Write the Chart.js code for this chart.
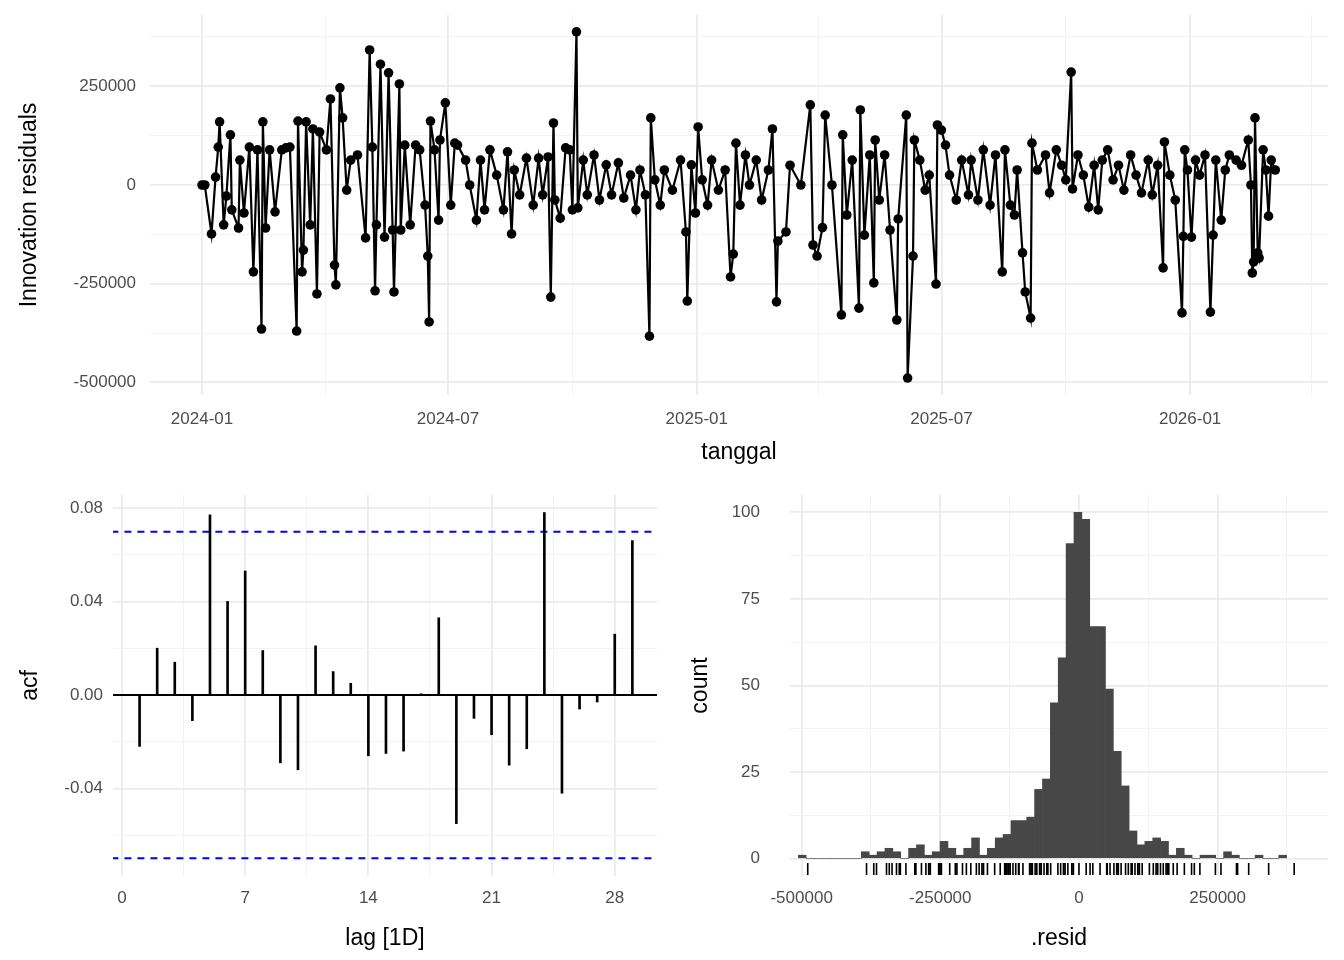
<!DOCTYPE html>
<html>
<head>
<meta charset="utf-8">
<script src="https://cdn.jsdelivr.net/npm/chart.js@4/dist/chart.umd.min.js"></script>
<style>
  body { margin: 0; background: #fff; }
  .box { position: absolute; }
</style>
</head>
<body>
<div class="box" style="left:0;top:0;width:1344px;height:470px"><canvas id="resid"></canvas></div>
<div class="box" style="left:0;top:470px;width:672px;height:490px"><canvas id="acf"></canvas></div>
<div class="box" style="left:672px;top:470px;width:672px;height:490px"><canvas id="hist"></canvas></div>
<script>
  // Residual series: day offset from 2024-01-01 and residual (thousands).
  const residDays = [0,2,7,10,12,13,16,18,21,22,27,28,31,35,38,41,44,45,47,50,54,59,62,65,70,71,74,75,77,80,82,85,87,92,95,98,99,102,104,107,110,115,121,124,126,128,129,132,135,138,141,142,146,147,150,154,158,161,165,167,168,169,172,175,176,180,184,187,189,195,198,203,206,209,213,218,223,226,229,231,235,240,245,249,252,256,258,260,261,265,269,272,274,277,278,282,285,290,294,299,303,308,312,317,321,324,328,331,332,335,339,342,348,354,358,359,362,365,367,370,374,377,382,387,391,393,395,398,402,405,410,414,419,422,425,426,432,435,443,450,452,455,459,461,466,473,474,477,481,486,487,490,494,497,498,501,505,509,514,515,521,522,526,527,531,535,538,543,544,547,550,553,558,562,567,569,574,578,583,587,592,594,598,601,603,607,609,613,614,618,624,627,632,636,639,643,644,648,652,656,660,663,666,670,674,678,682,687,691,695,700,703,707,711,712,716,720,725,726,727,729,732,735,738,742,746,748,750,754,757,760,765,769,774,776,777,778,779,781,782,785,787,789,791,794];
  const residVals = [0,0,-124,20,96,160,-101,-28,127,-63,-109,63,-71,96,-220,89,-365,160,-109,89,-68,89,94,96,-370,162,-220,-165,160,-101,142,-276,134,89,218,-203,-253,246,170,-13,63,76,-134,342,96,-268,-101,306,-132,284,-114,-271,256,-114,101,-101,101,89,-51,-180,-347,162,89,-89,114,208,-51,106,101,63,0,-89,63,-63,89,25,-63,84,-124,38,-25,68,-51,68,-25,71,-284,157,-38,-84,94,89,-63,388,-58,63,-25,76,-38,51,-25,56,-33,25,-63,38,-25,-383,170,13,-51,38,-13,63,-119,-294,51,-71,147,13,-51,63,-13,38,-233,-175,106,-51,76,0,63,-38,38,142,-296,-142,-119,50,0,203,-152,-180,-108,177,0,-329,127,-76,63,-312,190,-127,76,-248,114,-38,76,-114,-342,-86,177,-489,-180,114,63,-13,25,-251,152,139,101,25,-38,63,-25,63,-38,89,-51,76,-220,89,-51,-76,38,-172,-271,-337,106,38,76,-20,89,50,13,286,-10,76,25,-56,50,-63,63,89,13,50,-13,76,25,-20,63,-25,50,-210,109,25,-38,-324,-130,89,38,-132,63,25,76,-322,-127,63,-89,38,76,63,50,114,0,-223,-195,170,-172,-185,89,38,-79,63,38];

  // Top panel axis ticks.
  const residYTicks = [-500000,-375000,-250000,-125000,0,125000,250000,375000];
  const residXTickDays = [0,91,182,274,366,456,547,639,731,821];
  const residXTickLabels = ['2024-01','','2024-07','','2025-01','','2025-07','','2026-01',''];

  // ACF by lag.
  const acfLags = [1,2,3,4,5,6,7,8,9,10,11,12,13,14,15,16,17,18,19,20,21,22,23,24,25,26,27,28,29];
  const acfVals = [-0.022,0.020,0.014,-0.011,0.077,0.040,0.053,0.019,-0.029,-0.032,0.021,0.010,0.005,-0.026,-0.025,-0.024,0.0005,0.033,-0.055,-0.010,-0.017,-0.030,-0.023,0.078,-0.042,-0.006,-0.003,0.026,0.066];
  const acfBound = 0.0698;
  const acfYTicks = [-0.06,-0.04,-0.02,0,0.02,0.04,0.06,0.08];
  const acfXTicks = [0,3.5,7,10.5,14,17.5,21,24.5,28];

  // Histogram of residuals.
  const binStart = -506000;
  const binWidth = 14200;
  const binCounts = [1,0,0,0,0,0,0,0,2,1,2,3,2,0,3,4,1,2,5,3,1,3,6,1,3,6,7,11,11,12,20,23,45,58,91,100,98,67,67,49,31,21,8,4,5,6,5,1,3,1,0,1,1,0,2,1,0,0,1,0,0,1];
  const histXTicks = [-500000,-375000,-250000,-125000,0,125000,250000,375000];
  const histYTicks = [0,12.5,25,37.5,50,62.5,75,87.5,100];

  const FONT = 'Liberation Sans, Arial, sans-serif';
  const tickFont = { family: FONT, size: 17 };
  const titleFont = { family: FONT, size: 23 };
  const tickColor = '#4d4d4d';

  function gridOpts(isMajor) {
    return {
      drawTicks: false,
      color: (c) => isMajor(c.tick.value) ? '#ebebeb' : '#f2f2f2',
      lineWidth: (c) => isMajor(c.tick.value) ? 1.8 : 0.9
    };
  }
  function fixTicks(values) {
    return function (scale) { scale.ticks = values.map(v => ({ value: v })); };
  }
  function fixWidth(w) {
    return function (scale) { scale.width = w; scale.paddingTop = 0; scale.paddingBottom = 0; };
  }
  function fixHeight(h) {
    return function (scale) { scale.height = h; scale.paddingLeft = 0; scale.paddingRight = 0; };
  }

  Chart.defaults.animation = false;
  Chart.defaults.responsive = true;
  Chart.defaults.maintainAspectRatio = false;
  Chart.defaults.plugins.legend.display = false;
  Chart.defaults.plugins.tooltip.enabled = false;

  // Residual time series.
  const residPoints = residDays.map((d, i) => ({ x: d, y: residVals[i] * 1000 }));
  new Chart(document.getElementById('resid'), {
    type: 'line',
    data: {
      datasets: [{
        data: residPoints,
        borderColor: '#000',
        backgroundColor: '#000',
        borderWidth: 2.2,
        pointRadius: 4.8,
        pointBorderWidth: 0
      }]
    },
    options: {
      layout: { padding: { top: 15, right: 16, left: 0, bottom: 0 } },
      scales: {
        x: {
          type: 'linear', min: -38.5, max: 833,
          border: { display: false },
          grid: gridOpts(v => residXTickLabels[residXTickDays.indexOf(v)] !== ''),
          afterBuildTicks: fixTicks(residXTickDays),
          afterFit: fixHeight(75),
          ticks: {
            font: tickFont, color: tickColor, padding: 14, maxRotation: 0, autoSkip: false,
            callback: (v) => residXTickLabels[residXTickDays.indexOf(v)] || ''
          },
          title: { display: true, text: 'tanggal', font: titleFont, color: '#000', padding: { top: 0, bottom: 4 } }
        },
        y: {
          min: -532000, max: 430600,
          border: { display: false },
          grid: gridOpts(v => v % 250000 === 0),
          afterBuildTicks: fixTicks(residYTicks),
          afterFit: fixWidth(150),
          ticks: {
            font: tickFont, color: tickColor, padding: 14,
            callback: (v) => v % 250000 === 0 ? String(v) : ''
          },
          title: { display: true, text: 'Innovation residuals', font: titleFont, color: '#000', padding: { top: 16, bottom: 0 } }
        }
      }
    }
  });

  // ACF.
  const acfZeroLine = {
    id: 'acfZeroLine',
    afterDatasetsDraw(chart) {
      const { ctx, chartArea, scales } = chart;
      const y = scales.y.getPixelForValue(0);
      ctx.save();
      ctx.strokeStyle = '#000';
      ctx.lineWidth = 2;
      ctx.beginPath();
      ctx.moveTo(chartArea.left, y);
      ctx.lineTo(chartArea.right, y);
      ctx.stroke();
      ctx.restore();
    }
  };
  new Chart(document.getElementById('acf'), {
    type: 'bar',
    data: {
      datasets: [
        {
          type: 'bar',
          data: acfLags.map((l, i) => ({ x: l, y: acfVals[i] })),
          backgroundColor: '#000',
          barThickness: 2
        },
        {
          type: 'line',
          data: [{ x: -0.6, y: acfBound }, { x: 30.5, y: acfBound }],
          borderColor: '#0000ff', borderWidth: 2, borderDash: [7, 6], pointRadius: 0
        },
        {
          type: 'line',
          data: [{ x: -0.6, y: -acfBound }, { x: 30.5, y: -acfBound }],
          borderColor: '#0000ff', borderWidth: 2, borderDash: [7, 6], pointRadius: 0
        }
      ]
    },
    options: {
      layout: { padding: { top: 25, right: 15, left: 0, bottom: 0 } },
      scales: {
        x: {
          type: 'linear', min: -0.51, max: 30.4, offset: false,
          border: { display: false },
          grid: Object.assign(gridOpts(v => v % 7 === 0), { offset: false }),
          afterBuildTicks: fixTicks(acfXTicks),
          afterFit: fixHeight(84),
          ticks: {
            font: tickFont, color: tickColor, padding: 12, maxRotation: 0, autoSkip: false,
            callback: (v) => v % 7 === 0 ? String(v) : ''
          },
          title: { display: true, text: 'lag [1D]', font: titleFont, color: '#000', padding: { top: 0, bottom: 8 } }
        },
        y: {
          min: -0.0774, max: 0.0855,
          border: { display: false },
          grid: gridOpts(v => Math.abs(Math.round(v * 100) % 4) === 0),
          afterBuildTicks: fixTicks(acfYTicks),
          afterFit: fixWidth(113),
          ticks: {
            font: tickFont, color: tickColor, padding: 10,
            callback: (v) => Math.abs(Math.round(v * 100) % 4) === 0 ? v.toFixed(2) : ''
          },
          title: { display: true, text: 'acf', font: titleFont, color: '#000', padding: { top: 17, bottom: 0 } }
        }
      }
    },
    plugins: [acfZeroLine]
  });

  // Histogram with rug.
  const rugPlugin = {
    id: 'rug',
    afterDatasetsDraw(chart) {
      const { ctx, chartArea, scales } = chart;
      ctx.save();
      ctx.strokeStyle = '#000';
      ctx.lineWidth = 1.6;
      ctx.beginPath();
      residVals.forEach(v => {
        const x = scales.x.getPixelForValue(v * 1000);
        ctx.moveTo(x, chartArea.bottom - 13);
        ctx.lineTo(x, chartArea.bottom - 1);
      });
      ctx.stroke();
      ctx.restore();
    }
  };
  new Chart(document.getElementById('hist'), {
    type: 'bar',
    data: {
      datasets: [{
        data: binCounts.map((c, i) => ({ x: binStart + (i + 0.5) * binWidth, y: c })),
        backgroundColor: '#474747',
        barPercentage: 1,
        categoryPercentage: 1
      }]
    },
    options: {
      layout: { padding: { top: 25, right: 16, left: 0, bottom: 0 } },
      scales: {
        x: {
          type: 'linear', min: -521000, max: 449000, offset: false,
          border: { display: false },
          grid: Object.assign(gridOpts(v => v % 250000 === 0), { offset: false }),
          afterBuildTicks: fixTicks(histXTicks),
          afterFit: fixHeight(84),
          ticks: {
            font: tickFont, color: tickColor, padding: 12, maxRotation: 0, autoSkip: false,
            callback: (v) => v % 250000 === 0 ? String(v) : ''
          },
          title: { display: true, text: '.resid', font: titleFont, color: '#000', padding: { top: 0, bottom: 8 } }
        },
        y: {
          min: -5, max: 105,
          border: { display: false },
          grid: gridOpts(v => v % 25 === 0),
          afterBuildTicks: fixTicks(histYTicks),
          afterFit: fixWidth(118),
          ticks: {
            font: tickFont, color: tickColor, padding: 30,
            callback: (v) => v % 25 === 0 ? String(v) : ''
          },
          title: { display: true, text: 'count', font: titleFont, color: '#000', padding: { top: 15, bottom: 0 } }
        }
      }
    },
    plugins: [rugPlugin]
  });
</script>
</body>
</html>
